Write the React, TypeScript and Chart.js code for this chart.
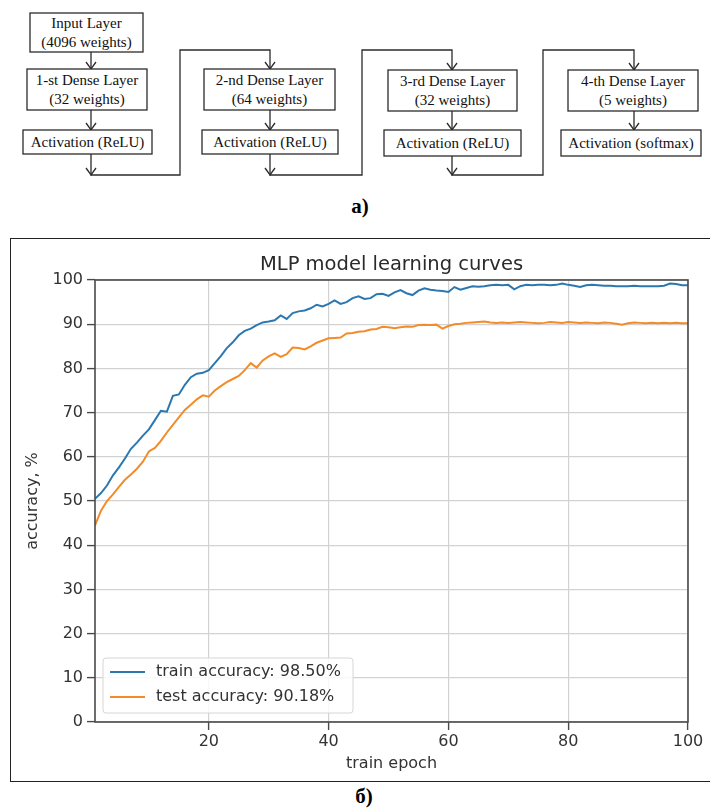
import React, { useEffect, useRef } from "react";
import { Chart, registerables } from "chart.js";

Chart.register(...registerables);

// ---------- data ----------
const epochs = Array.from({ length: 100 }, (_, i) => i + 1);

const trainAccuracy = [
  50.5, 51.8, 53.5, 55.8, 57.6, 59.6, 61.8, 63.2, 64.8, 66.2,
  68.3, 70.4, 70.2, 73.8, 74.1, 76.3, 78.0, 78.8, 79.0, 79.6,
  81.2, 82.8, 84.6, 85.9, 87.5, 88.5, 89.0, 89.8, 90.4, 90.6,
  90.9, 92.0, 91.2, 92.5, 92.9, 93.1, 93.6, 94.4, 94.0, 94.6,
  95.4, 94.6, 95.0, 95.9, 96.3, 95.7, 95.9, 96.8, 96.9, 96.4,
  97.2, 97.7, 97.0, 96.6, 97.6, 98.1, 97.8, 97.6, 97.5, 97.3,
  98.4, 97.8, 98.2, 98.6, 98.5, 98.6, 98.8, 98.9, 98.8, 98.9,
  97.9, 98.6, 98.9, 98.8, 98.9, 98.9, 98.8, 98.9, 99.2, 98.9,
  98.7, 98.4, 98.8, 98.9, 98.8, 98.7, 98.7, 98.6, 98.6, 98.6,
  98.7, 98.6, 98.6, 98.6, 98.6, 98.7, 99.2, 99.1, 98.8, 98.8,
];

const testAccuracy = [
  44.5, 47.8, 50.0, 51.5, 53.2, 54.8, 56.0, 57.3, 58.9, 61.2,
  62.0, 63.6, 65.5, 67.2, 68.9, 70.6, 71.8, 73.0, 73.9, 73.6,
  75.0, 76.0, 76.9, 77.6, 78.3, 79.6, 81.2, 80.2, 81.8, 82.7,
  83.4, 82.6, 83.2, 84.7, 84.6, 84.3, 85.0, 85.8, 86.3, 86.8,
  86.9, 87.0, 87.9, 88.0, 88.3, 88.4, 88.8, 88.9, 89.4, 89.3,
  89.1, 89.3, 89.5, 89.4, 89.8, 89.9, 89.8, 89.9, 89.0, 89.6,
  90.0, 90.1, 90.3, 90.4, 90.5, 90.6, 90.4, 90.3, 90.4, 90.3,
  90.4, 90.5, 90.4, 90.3, 90.2, 90.3, 90.5, 90.4, 90.3, 90.5,
  90.4, 90.3, 90.4, 90.3, 90.2, 90.4, 90.3, 90.1, 89.9, 90.2,
  90.4, 90.3, 90.2, 90.3, 90.2, 90.3, 90.2, 90.3, 90.2, 90.2,
];

const seriesLabels = ["train accuracy: 98.50%", "test accuracy: 90.18%"];
const seriesColors = ["#2b78b0", "#f38b28"];
const xTickValues = [20, 40, 60, 80, 100];
const chartTitle = "MLP model learning curves";
const xAxisTitle = "train epoch";
const yAxisTitle = "accuracy, %";

// diagram text
const layerBoxes = [
  { lines: ["Input Layer", "(4096 weights)"], x: 30, y: 13, w: 113, h: 39 },
  { lines: ["1-st Dense Layer", "(32 weights)"], x: 27, y: 69, w: 120, h: 41 },
  { lines: ["Activation (ReLU)"], x: 23, y: 130, w: 129, h: 24 },
  { lines: ["2-nd Dense Layer", "(64 weights)"], x: 204, y: 69, w: 131, h: 41 },
  { lines: ["Activation (ReLU)"], x: 202, y: 130, w: 136, h: 24 },
  { lines: ["3-rd Dense Layer", "(32 weights)"], x: 388, y: 70, w: 129, h: 41 },
  { lines: ["Activation (ReLU)"], x: 384, y: 130, w: 137, h: 26 },
  { lines: ["4-th Dense Layer", "(5 weights)"], x: 568, y: 70, w: 130, h: 41 },
  { lines: ["Activation (softmax)"], x: 561, y: 130, w: 140, h: 26 },
];

const FONT = "'DejaVu Sans', sans-serif";

const framePlugin = {
  id: "frameAndLegend",
  afterDatasetsDraw(chart: any) {
    const { ctx, chartArea } = chart;
    const { left, right, top, bottom } = chartArea;
    ctx.save();
    // spines
    ctx.strokeStyle = "#4a4a4a";
    ctx.lineWidth = 1.6;
    ctx.strokeRect(left, top, right - left, bottom - top);

    // legend in lower-left corner
    const bx = left + 8;
    const bw = 250;
    const bh = 55;
    const by = bottom - 9 - bh;
    ctx.fillStyle = "rgba(255,255,255,0.85)";
    ctx.strokeStyle = "#d6d6d6";
    ctx.lineWidth = 1;
    ctx.beginPath();
    const r = 3;
    ctx.moveTo(bx + r, by);
    ctx.lineTo(bx + bw - r, by);
    ctx.quadraticCurveTo(bx + bw, by, bx + bw, by + r);
    ctx.lineTo(bx + bw, by + bh - r);
    ctx.quadraticCurveTo(bx + bw, by + bh, bx + bw - r, by + bh);
    ctx.lineTo(bx + r, by + bh);
    ctx.quadraticCurveTo(bx, by + bh, bx, by + bh - r);
    ctx.lineTo(bx, by + r);
    ctx.quadraticCurveTo(bx, by, bx + r, by);
    ctx.closePath();
    ctx.fill();
    ctx.stroke();

    ctx.font = `16px ${FONT}`;
    ctx.textBaseline = "middle";
    ctx.textAlign = "left";
    chart.data.datasets.forEach((ds: any, i: number) => {
      const ly = by + 14 + i * 25;
      ctx.strokeStyle = ds.borderColor;
      ctx.lineWidth = 2;
      ctx.beginPath();
      ctx.moveTo(bx + 7, ly);
      ctx.lineTo(bx + 42, ly);
      ctx.stroke();
      ctx.fillStyle = "#333";
      ctx.fillText(ds.label, bx + 53, ly);
    });
    ctx.restore();
  },
};

function LearningCurves() {
  const ref = useRef<HTMLCanvasElement | null>(null);
  useEffect(() => {
    if (!ref.current) return;
    const chart = new Chart(ref.current, {
      type: "line",
      data: {
        labels: epochs,
        datasets: [
          {
            label: seriesLabels[0],
            data: epochs.map((e, i) => ({ x: e, y: trainAccuracy[i] })),
            borderColor: seriesColors[0],
            borderWidth: 2,
            pointRadius: 0,
            tension: 0,
          },
          {
            label: seriesLabels[1],
            data: epochs.map((e, i) => ({ x: e, y: testAccuracy[i] })),
            borderColor: seriesColors[1],
            borderWidth: 2,
            pointRadius: 0,
            tension: 0,
          },
        ],
      },
      options: {
        responsive: false,
        animation: false,
        events: [],
        layout: { padding: { left: 0, right: 21, top: 0, bottom: 0 } },
        plugins: {
          legend: { display: false },
          tooltip: { enabled: false },
          title: {
            display: true,
            text: chartTitle,
            fullSize: false,
            color: "#2a2a2a",
            font: { family: FONT, size: 19.5, weight: "normal" },
            padding: { top: 13.8, bottom: 3.8 },
          },
        },
        scales: {
          x: {
            type: "linear",
            min: 1,
            max: 100,
            afterBuildTicks: (scale: any) => {
              scale.ticks = xTickValues.map((v) => ({ value: v }));
            },
            afterFit: (scale: any) => {
              scale.height = 60;
            },
            grid: {
              color: "#d2d2d2",
              lineWidth: 1.2,
              tickLength: 8,
              tickColor: "#4a4a4a",
              tickWidth: 1.4,
            },
            border: { display: false },
            ticks: {
              color: "#333",
              font: { family: FONT, size: 16 },
              padding: 2,
              maxRotation: 0,
            },
            title: {
              display: true,
              text: xAxisTitle,
              color: "#333",
              font: { family: FONT, size: 16 },
              padding: { top: 0, bottom: 8.9 },
            },
          },
          y: {
            min: 0,
            max: 100,
            afterFit: (scale: any) => {
              scale.width = 84;
            },
            grid: {
              color: "#d2d2d2",
              lineWidth: 1.2,
              tickLength: 8,
              tickColor: "#4a4a4a",
              tickWidth: 1.4,
            },
            border: { display: false },
            ticks: {
              stepSize: 10,
              color: "#333",
              font: { family: FONT, size: 16 },
              padding: 4,
            },
            title: {
              display: true,
              text: yAxisTitle,
              color: "#333",
              font: { family: FONT, size: 16 },
              padding: { top: 12.4, bottom: 0 },
            },
          },
        },
      },
      plugins: [framePlugin],
    } as any);
    return () => chart.destroy();
  }, []);
  return (
    <canvas
      ref={ref}
      width={698}
      height={543}
      style={{ position: "absolute", left: 11, top: 239, width: 698, height: 543 }}
    />
  );
}

function arrowHead(x: number, y: number) {
  return `M ${x - 5} ${y - 7} L ${x} ${y} L ${x + 5} ${y - 7}`;
}

function Diagram() {
  const stroke = "#2b2b2b";
  const conns = [
    { d: "M 91 52 L 91 69", a: [91, 69] },
    { d: "M 91 110 L 91 130", a: [91, 130] },
    { d: "M 270 110 L 270 130", a: [270, 130] },
    { d: "M 452 111 L 452 130", a: [452, 130] },
    { d: "M 634 111 L 634 130", a: [634, 130] },
    { d: "M 91 154 L 91 175 L 180 175 L 180 50 L 270 50 L 270 69", a: [270, 69] },
    { d: "M 270 154 L 270 175 L 362 175 L 362 50 L 452 50 L 452 70", a: [452, 70] },
    { d: "M 452 156 L 452 175 L 543 175 L 543 50 L 634 50 L 634 70", a: [634, 70] },
  ];
  const bottomHeads = [
    [91, 175],
    [270, 175],
    [452, 175],
  ];
  return (
    <svg width={710} height={190} style={{ position: "absolute", left: 0, top: 0 }}>
      {conns.map((c, i) => (
        <g key={i}>
          <path d={c.d} fill="none" stroke={stroke} strokeWidth={1.3} />
          <path d={arrowHead(c.a[0], c.a[1])} fill="none" stroke={stroke} strokeWidth={1.3} />
        </g>
      ))}
      {bottomHeads.map((h, i) => (
        <path key={i} d={arrowHead(h[0], h[1])} fill="none" stroke={stroke} strokeWidth={1.3} />
      ))}
      {layerBoxes.map((b, i) => (
        <g key={i}>
          <rect x={b.x} y={b.y} width={b.w} height={b.h} fill="#fff" stroke={stroke} strokeWidth={1.3} />
          {b.lines.map((t, j) => {
            const n = b.lines.length;
            const cy = n === 1 ? b.y + b.h / 2 : b.y + b.h / 2 + (j - 0.5) * 19;
            return (
              <text
                key={j}
                x={b.x + b.w / 2}
                y={cy}
                textAnchor="middle"
                dominantBaseline="central"
                fontFamily="'Liberation Serif', 'Times New Roman', serif"
                fontSize={15}
                fill="#111"
              >
                {t}
              </text>
            );
          })}
        </g>
      ))}
    </svg>
  );
}

export default function App() {
  return (
    <div
      style={{
        position: "fixed",
        left: 0,
        top: 0,
        width: 710,
        height: 812,
        background: "#fff",
        overflow: "hidden",
      }}
    >
      <Diagram />
      <div
        style={{
          position: "absolute",
          left: 340,
          top: 194,
          width: 40,
          textAlign: "center",
          fontFamily: "'Liberation Serif', 'Times New Roman', serif",
          fontWeight: "bold",
          fontSize: 21,
          lineHeight: "24px",
          color: "#000",
        }}
      >
        а)
      </div>
      <div
        style={{
          position: "absolute",
          left: 10,
          top: 238,
          width: 700,
          height: 544,
          borderTop: "1.5px solid #222",
          borderLeft: "1.5px solid #222",
          borderBottom: "1.5px solid #222",
          boxSizing: "border-box",
        }}
      />
      <LearningCurves />
      <div
        style={{
          position: "absolute",
          left: 344,
          top: 784,
          width: 40,
          textAlign: "center",
          fontFamily: "'Liberation Serif', 'Times New Roman', serif",
          fontWeight: "bold",
          fontSize: 21,
          lineHeight: "24px",
          color: "#000",
        }}
      >
        б)
      </div>
    </div>
  );
}
